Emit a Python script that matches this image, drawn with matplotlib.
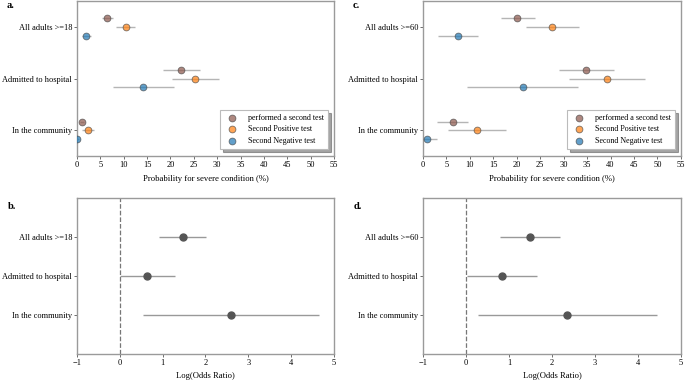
import numpy as np
import matplotlib
matplotlib.use("Agg")
import matplotlib.pyplot as plt

plt.rcParams["font.family"] = ["Liberation Serif", "DejaVu Serif"]
plt.rcParams["font.size"] = 6

# ── Data ───────────────────────────────────────────────────────────────
groups_a = ["All adults >=18", "Admitted to hospital", "In the community"]
groups_c = ["All adults >=60", "Admitted to hospital", "In the community"]
series = ["performed a second test", "Second Positive test", "Second Negative test"]

# panel a: probability (%) with lower/upper CI
a_mid = [[6.4, 22.3, 1.0], [10.4, 25.3, 2.4], [2.0, 14.2, 0.1]]
a_lo = [[5.3, 18.3, 0.6], [8.3, 20.4, 1.1], [1.15, 7.6, 0.0]]
a_hi = [[7.65, 26.4, 1.4], [12.5, 30.4, 3.7], [3.0, 20.8, 0.4]]

# panel c
c_mid = [[20.1, 34.8, 6.3], [27.6, 39.2, 11.5], [7.5, 21.3, 0.9]]
c_lo = [[16.6, 29.0, 3.05], [22.0, 31.2, 5.3], [3.1, 9.4, 0.07]]
c_hi = [[23.8, 40.7, 9.7], [33.3, 47.3, 17.7], [11.8, 33.0, 2.9]]

# panels b/d: log odds ratio with CI
b_mid = [1.48, 0.64, 2.60]
b_lo = [0.92, 0.0, 0.53]
b_hi = [2.02, 1.28, 4.66]

d_mid = [1.49, 0.84, 2.36]
d_lo = [0.80, 0.02, 0.27]
d_hi = [2.18, 1.65, 4.45]

colors = ["#8c564b", "#ff7f0e", "#1f77b4"]
offsets = [-1 / 6, 0, 1 / 6]

SPINE = "#9a9a9a"


def style_axes(ax):
    for s in ax.spines.values():
        s.set_color(SPINE)
        s.set_linewidth(1.0)
    ax.tick_params(axis="both", length=2, width=0.6, color="#555555",
                   labelsize=6, pad=1.5)


def prob_panel(ax, groups, mid, lo, hi, label):
    y = np.arange(len(groups))
    for k in range(len(series)):
        m = np.array(mid[k])
        xerr = [m - np.array(lo[k]), np.array(hi[k]) - m]
        ax.errorbar(m, y + offsets[k], xerr=xerr, fmt="none",
                    ecolor="#b5b5b5", elinewidth=1.0, zorder=2)
        ax.scatter(m, y + offsets[k], s=24, color=colors[k], alpha=0.7,
                   edgecolors="#444444", linewidths=0.6, zorder=3,
                   label=series[k])
    ax.set_yticks(y)
    ax.set_yticklabels(groups, fontsize=6.2)
    ax.set_ylim(2.5, -0.5)
    ax.set_xlim(0, 55)
    ax.set_xticks(np.arange(0, 56, 5))
    ax.set_xlabel("Probability for severe condition (%)", fontsize=6.2, labelpad=4)
    style_axes(ax)
    leg = ax.legend(loc="lower right", fontsize=5.8, frameon=True, shadow=True,
                    fancybox=False, borderpad=0.55, handletextpad=0.9,
                    labelspacing=0.4, framealpha=1,
                    bbox_to_anchor=(0.993, 0.02))
    leg.get_frame().set_edgecolor("#bbbbbb")
    leg.get_frame().set_linewidth(0.8)
    ax.text(-0.272, 1.0, label, transform=ax.transAxes, fontsize=7.5,
            fontweight="bold", va="top", ha="left")


def odds_panel(ax, groups, mid, lo, hi, label):
    y = np.arange(len(groups))
    m = np.array(mid)
    xerr = [m - np.array(lo), np.array(hi) - m]
    ax.axvline(0, color="#777777", linestyle="--", linewidth=0.9, zorder=1)
    ax.errorbar(m, y, xerr=xerr, fmt="o", color="#555555", markersize=5,
                ecolor="#999999", elinewidth=1.0, zorder=3)
    ax.set_yticks(y)
    ax.set_yticklabels(groups, fontsize=6.2)
    ax.set_ylim(3, -1)
    ax.set_xlim(-1, 5)
    ax.set_xticks(np.arange(-1, 6, 1))
    ax.set_xticklabels(["\u22121", "0", "1", "2", "3", "4", "5"])
    ax.set_xlabel("Log(Odds Ratio)", fontsize=6.2, labelpad=4)
    style_axes(ax)
    ax.text(-0.268, 0.975, label, transform=ax.transAxes, fontsize=7.5,
            fontweight="bold", va="top", ha="left")


fig = plt.figure(figsize=(6.85, 3.81), dpi=100)
ax_a = fig.add_axes([0.1124, 0.590, 0.3752, 0.407])
ax_c = fig.add_axes([0.6175, 0.590, 0.3765, 0.407])
ax_b = fig.add_axes([0.1124, 0.071, 0.3752, 0.409])
ax_d = fig.add_axes([0.6175, 0.071, 0.3765, 0.409])

prob_panel(ax_a, groups_a, a_mid, a_lo, a_hi, "a.")
prob_panel(ax_c, groups_c, c_mid, c_lo, c_hi, "c.")
odds_panel(ax_b, groups_a, b_mid, b_lo, b_hi, "b.")
odds_panel(ax_d, groups_c, d_mid, d_lo, d_hi, "d.")

fig.savefig("out.png", dpi=100, facecolor="white")
